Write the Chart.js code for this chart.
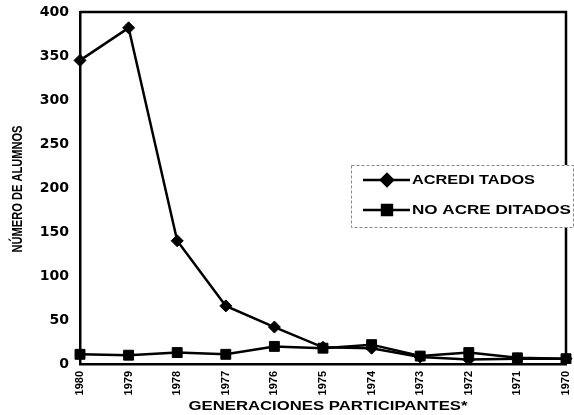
<!DOCTYPE html>
<html>
<head>
<meta charset="utf-8">
<script src="https://cdn.jsdelivr.net/npm/chart.js@4/dist/chart.umd.min.js"></script>
<style>
  html, body { margin: 0; padding: 0; background: #fff; }
  #wrap { width: 574px; height: 415px; position: relative; }
</style>
</head>
<body>
<div id="wrap"><canvas id="chart"></canvas></div>
<script>
const generaciones = ['1980', '1979', '1978', '1977', '1976', '1975', '1974', '1973', '1972', '1971', '1970'];
const acreditados = [345, 382, 140, 66, 42, 19, 18, 8, 5, 6, 6];
const noAcreditados = [11, 10, 13, 11, 20, 18, 22, 9, 13, 7, 6];
const yTicks = [0, 50, 100, 150, 200, 250, 300, 350, 400];
const xTitle = 'GENERACIONES PARTICIPANTES*';
const yTitle = 'NÚMERO DE ALUMNOS';

const SANS = "'Liberation Sans', Arial, sans-serif";
const WIDE = "'DejaVu Sans', sans-serif";

// draws text squeezed or stretched to a given length
function fitText(ctx, text, x, y, len, font, angle) {
  ctx.save();
  ctx.font = font;
  const w = ctx.measureText(text).width;
  ctx.translate(x, y);
  ctx.rotate(angle || 0);
  ctx.scale(len / w, 1);
  ctx.textAlign = 'center';
  ctx.textBaseline = 'middle';
  ctx.fillStyle = '#000';
  ctx.fillText(text, 0, 0);
  ctx.restore();
}

// frame, axis titles and the legend box
const framePlugin = {
  id: 'frame',
  afterDraw(chart) {
    const { ctx, chartArea: a } = chart;
    ctx.save();
    ctx.strokeStyle = '#000';
    ctx.lineWidth = 2.5;
    ctx.beginPath();
    ctx.moveTo(a.left, a.top);
    ctx.lineTo(a.right, a.top);
    ctx.lineTo(a.right, a.bottom);
    ctx.stroke();

    fitText(ctx, xTitle, 328, 407, 279, 'bold 12px ' + SANS);
    fitText(ctx, yTitle, 18, 189, 127, 'bold 15px ' + SANS, -Math.PI / 2);

    // legend
    const bx = 351, by = 165, bw = 222, bh = 62;
    ctx.fillStyle = '#fff';
    ctx.fillRect(bx, by, bw, bh);
    ctx.strokeStyle = '#888';
    ctx.lineWidth = 1;
    ctx.setLineDash([3, 2]);
    ctx.strokeRect(bx + 0.5, by + 0.5, bw, bh);
    ctx.setLineDash([]);

    const rows = [
      { y: 180, ds: 0, len: 123 },
      { y: 210, ds: 1, len: 159 }
    ];
    rows.forEach(r => {
      const ds = chart.data.datasets[r.ds];
      ctx.strokeStyle = '#000';
      ctx.fillStyle = '#000';
      ctx.lineWidth = 2.5;
      ctx.beginPath();
      ctx.moveTo(363, r.y);
      ctx.lineTo(410, r.y);
      ctx.stroke();
      Chart.helpers.drawPoint(ctx, {
        pointStyle: ds.pointStyle,
        radius: ds.pointRadius,
        borderWidth: 1
      }, 387, r.y);
      fitText(ctx, ds.label, 412 + r.len / 2, r.y + 1, r.len, 'bold 12px ' + SANS);
    });
    ctx.restore();
  }
};

new Chart(document.getElementById('chart').getContext('2d'), {
  type: 'line',
  data: {
    labels: generaciones,
    datasets: [
      {
        label: 'ACREDI TADOS',
        data: acreditados,
        borderColor: '#000',
        backgroundColor: '#000',
        borderWidth: 2.5,
        pointStyle: 'rectRot',
        pointRadius: 6,
        pointBorderWidth: 1,
        tension: 0
      },
      {
        label: 'NO ACRE DITADOS',
        data: noAcreditados,
        borderColor: '#000',
        backgroundColor: '#000',
        borderWidth: 2.5,
        pointStyle: 'rect',
        pointRadius: 7,
        pointBorderWidth: 1,
        tension: 0
      }
    ]
  },
  options: {
    responsive: true,
    maintainAspectRatio: false,
    animation: false,
    layout: { padding: { top: 12, right: 4, bottom: 0, left: 0 } },
    plugins: {
      legend: { display: false },
      tooltip: { enabled: false }
    },
    scales: {
      x: {
        offset: false,
        grid: { display: false, drawTicks: false },
        border: { display: true, color: '#000', width: 2.5 },
        ticks: {
          color: '#000',
          font: { family: SANS, size: 11, weight: 'bold' },
          maxRotation: 90,
          minRotation: 90,
          padding: 7,
          autoSkip: false
        },
        afterFit: s => {
          s.height = 51;
          s.paddingLeft = 0;
          s.paddingRight = 0;
        }
      },
      y: {
        min: 0,
        max: 400,
        afterBuildTicks: s => { s.ticks = yTicks.map(v => ({ value: v })); },
        grid: { display: false, drawTicks: false },
        border: { display: true, color: '#000', width: 2.5 },
        ticks: {
          color: '#000',
          font: { family: WIDE, size: 14, weight: 'bold' },
          padding: 11
        },
        afterFit: s => {
          s.width = 80;
          s.paddingTop = 0;
          s.paddingBottom = 0;
        }
      }
    }
  },
  plugins: [framePlugin]
});
</script>
</body>
</html>
